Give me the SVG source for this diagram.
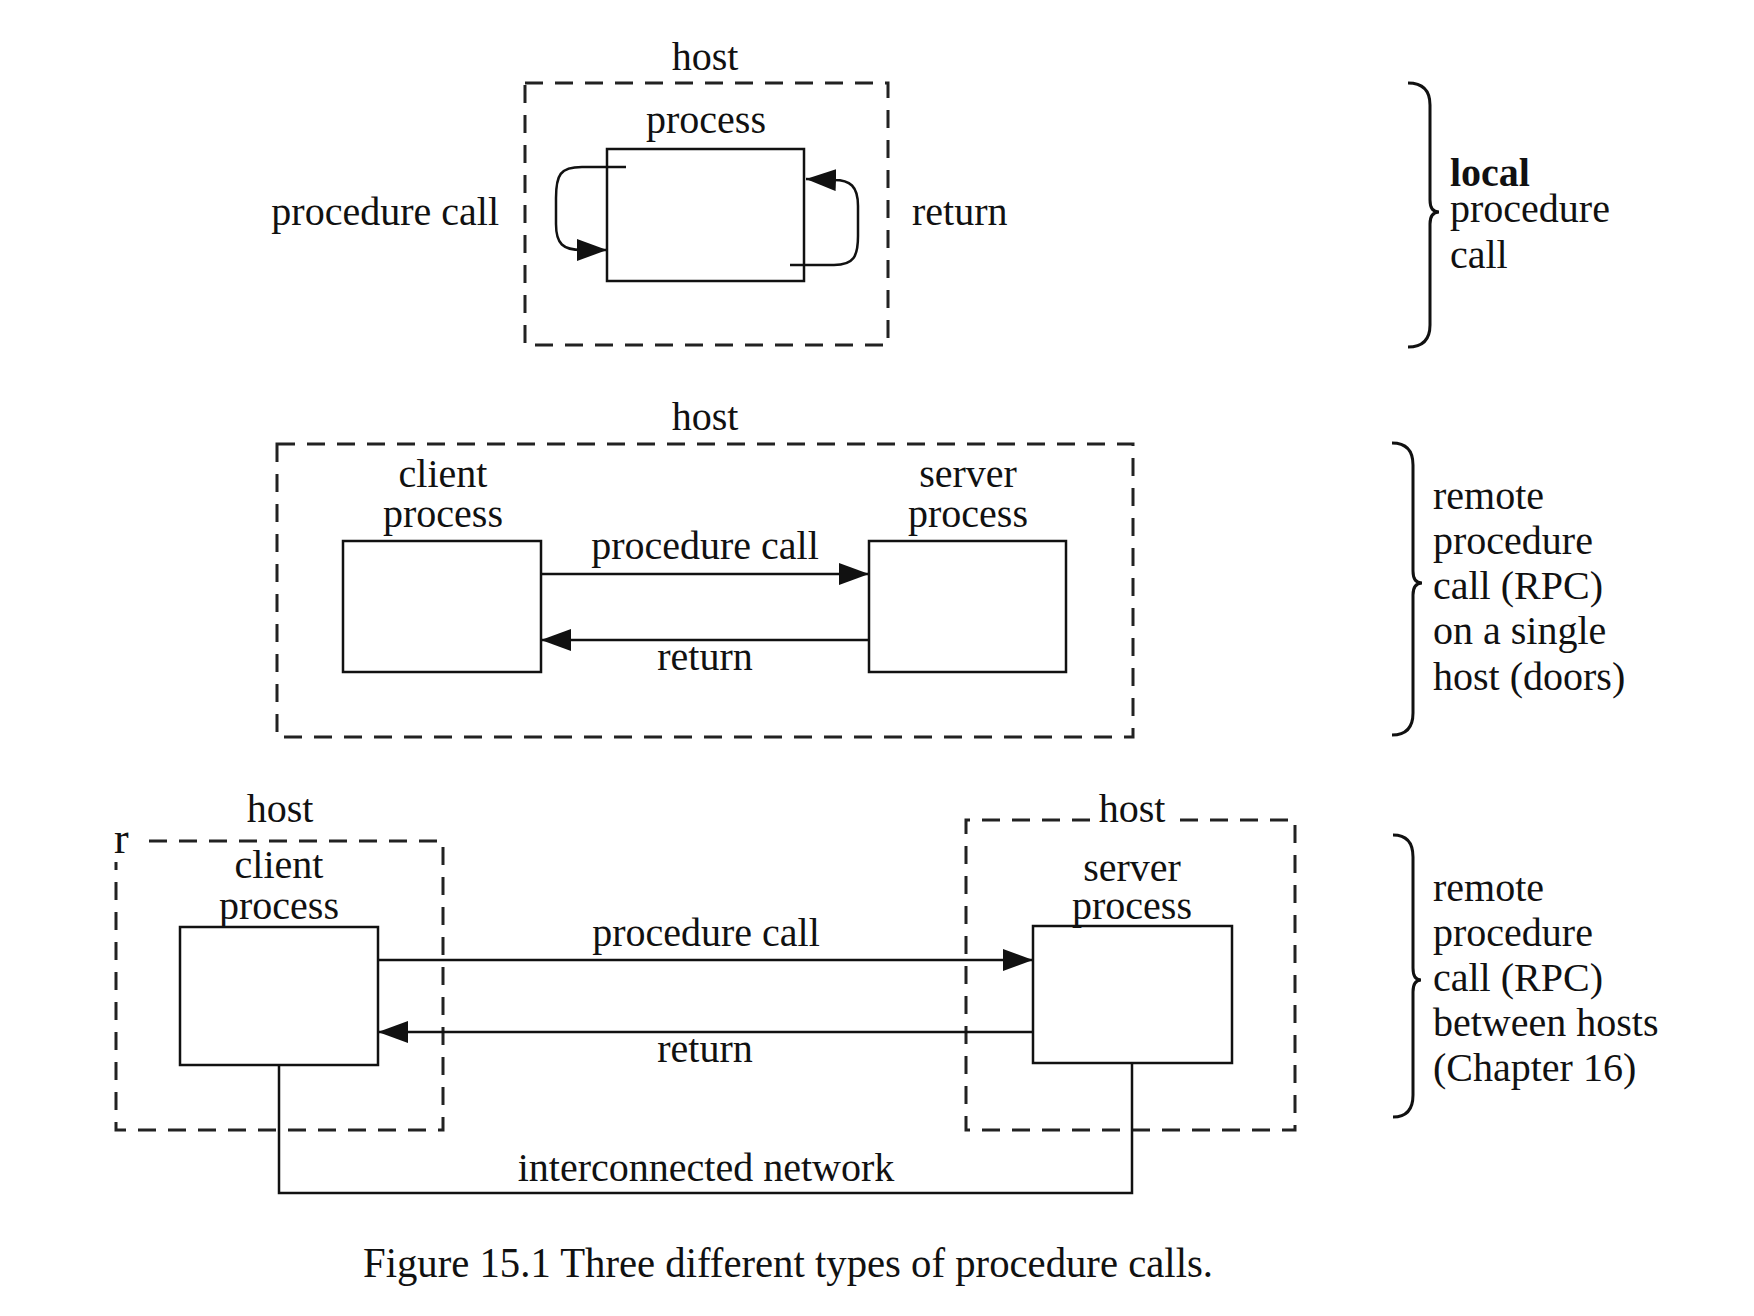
<svg xmlns="http://www.w3.org/2000/svg" width="1754" height="1316" viewBox="0 0 1754 1316">
<style>
text{font-family:"Liberation Serif","Times New Roman",serif;font-size:40px;fill:#111}
.c{text-anchor:middle}
.e{text-anchor:end}
.box{fill:none;stroke:#111;stroke-width:2.5}
.dash{fill:none;stroke:#222;stroke-width:3;stroke-dasharray:18 12}
.ln{fill:none;stroke:#111;stroke-width:2.5}
.br{fill:none;stroke:#111;stroke-width:3}
</style>
<defs>
<marker id="ah" markerWidth="30" markerHeight="22" refX="30" refY="11" orient="auto" markerUnits="userSpaceOnUse">
<path d="M0,0 L30,11 L0,22 z" fill="#111"/>
</marker>
</defs>
<rect width="1754" height="1316" fill="#fff"/>

<!-- Section 1: local procedure call -->
<g id="host1">
<rect class="dash" x="525" y="83" width="363" height="262"/>
<text class="c" x="705" y="70">host</text>
</g>
<g id="process1">
<rect class="box" x="607" y="149" width="197" height="132"/>
<text class="c" x="706" y="133">process</text>
</g>
<g id="label1">
<text class="e" x="499" y="225">procedure call</text>
<text x="912" y="225">return</text>
</g>

<!-- Section 2: RPC on single host -->
<g id="host2">
<rect class="dash" x="277" y="444" width="856" height="293"/>
<text class="c" x="705" y="430">host</text>
</g>
<g id="client2">
<rect class="box" x="343" y="541" width="198" height="131"/>
<text class="c" x="443" y="487">client</text>
<text class="c" x="443" y="527">process</text>
</g>
<g id="server2">
<rect class="box" x="869" y="541" width="197" height="131"/>
<text class="c" x="968" y="487">server</text>
<text class="c" x="968" y="527">process</text>
</g>
<g id="label2">
<text class="c" x="705" y="559">procedure call</text>
<text class="c" x="705" y="670">return</text>
</g>

<!-- Section 3: RPC between hosts -->
<g id="host3a">
<path class="dash" d="M149 841 H443 V1130 H116 V862"/>
<text x="114" y="853" style="font-size:44px">r</text>
<text class="c" x="280" y="822">host</text>
</g>
<g id="client3">
<rect class="box" x="180" y="927" width="198" height="138"/>
<text class="c" x="279" y="878">client</text>
<text class="c" x="279" y="919">process</text>
</g>
<g id="host3b">
<path class="dash" d="M1090 820 H966 V1130 H1295 V820 H1168"/>
<text class="c" x="1132" y="822">host</text>
</g>
<g id="server3">
<rect class="box" x="1033" y="926" width="199" height="137"/>
<text class="c" x="1132" y="881">server</text>
<text class="c" x="1132" y="919">process</text>
</g>
<g id="label3">
<text class="c" x="706" y="946">procedure call</text>
<text class="c" x="705" y="1062">return</text>
<text class="c" x="706" y="1181">interconnected network</text>
</g>

<!-- Connectors -->
<g id="connectors">
<path class="ln" marker-end="url(#ah)" d="M626 167 L582 167 C560 167 556 175 556 198 L556 224 C556 244 563 250 582 250 L607 250"/>
<path class="ln" marker-end="url(#ah)" d="M790 265 L834 265 C854 265 858 256 858 236 L858 206 C858 186 850 180 834 180 L806 179"/>
<path class="ln" marker-end="url(#ah)" d="M541 574 H869"/>
<path class="ln" marker-end="url(#ah)" d="M869 640 H541"/>
<path class="ln" marker-end="url(#ah)" d="M378 960 H1033"/>
<path class="ln" marker-end="url(#ah)" d="M1033 1032 H378"/>
<path class="ln" stroke-width="3" d="M279 1065 V1193 H1132 V1063"/>
</g>

<!-- Braces and side labels -->
<g id="brace1">
<path class="br" d="M1408 83 Q1430 83 1430 105 V200 Q1430 212 1439 212 Q1430 212 1430 224 V325 Q1430 347 1408 347"/>
<text x="1450" y="186" style="font-weight:bold">local</text>
<text x="1450" y="222">procedure</text>
<text x="1450" y="268">call</text>
</g>
<g id="brace2">
<path class="br" d="M1392 443 Q1413 443 1413 465 V571 Q1413 583 1422 583 Q1413 583 1413 595 V713 Q1413 735 1392 735"/>
<text x="1433" y="509">remote</text>
<text x="1433" y="554">procedure</text>
<text x="1433" y="599">call (RPC)</text>
<text x="1433" y="644">on a single</text>
<text x="1433" y="690">host (doors)</text>
</g>
<g id="brace3">
<path class="br" d="M1393 835 Q1413 835 1413 857 V968 Q1413 980 1421 980 Q1413 980 1413 992 V1095 Q1413 1117 1393 1117"/>
<text x="1433" y="901">remote</text>
<text x="1433" y="946">procedure</text>
<text x="1433" y="991">call (RPC)</text>
<text x="1433" y="1036">between hosts</text>
<text x="1433" y="1081">(Chapter 16)</text>
</g>

<text x="363" y="1277" textLength="850" lengthAdjust="spacingAndGlyphs" style="font-size:42px">Figure 15.1   Three different types of  procedure calls.</text>
</svg>
